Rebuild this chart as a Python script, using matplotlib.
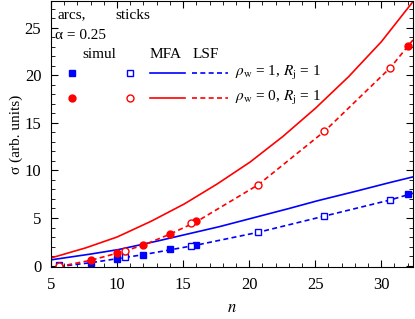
import numpy as np
import matplotlib
matplotlib.use('Agg')
import matplotlib.pyplot as plt
from matplotlib.ticker import MultipleLocator

plt.rcParams['font.family'] = ['Liberation Serif', 'DejaVu Serif']
plt.rcParams['mathtext.fontset'] = 'stix'
plt.rcParams['font.size'] = 10

# simulation points, arcs (filled) and sticks (open)
n_arcs = [8, 10, 12, 14, 16, 32]
n_sticks = [5.6, 10.6, 15.6, 20.7, 25.7, 30.7]
blue_arcs = [0.3, 0.7, 1.15, 1.7, 2.2, 7.5]
blue_sticks = [0.05, 0.85, 2.05, 3.5, 5.2, 6.9]
red_arcs = [0.6, 1.3, 2.2, 3.35, 4.7, 23.1]
red_sticks = [0.0, 1.5, 4.45, 8.5, 14.1, 20.8]

# MFA curves
n_mfa = [5, 7.5, 10, 12.5, 15, 17.5, 20, 22.5, 25, 27.5, 30, 32.5]
blue_mfa = [0.6, 1.1, 1.65, 2.4, 3.2, 4.0, 4.9, 5.8, 6.75, 7.6, 8.5, 9.35]
red_mfa = [0.8, 1.8, 3.0, 4.6, 6.4, 8.5, 10.8, 13.5, 16.5, 19.8, 23.5, 27.9]

# LSF curves
n_lsf = [5.6, 8, 10, 12, 14, 16, 20.7, 25.7, 30.7, 32.4]
blue_lsf = [-0.1, 0.3, 0.72, 1.15, 1.65, 2.15, 3.5, 5.2, 6.9, 7.6]
red_lsf = [-0.1, 0.55, 1.3, 2.15, 3.3, 4.6, 8.5, 14.1, 20.8, 23.7]

BLUE = '#0000ff'
RED = '#ff0000'
DASH = (0, (3, 2))

fig = plt.figure(figsize=(4.15, 3.19), dpi=100)
ax = fig.add_axes([0.123, 0.163, 0.872, 0.834])

# smooth the MFA curves a bit
xs = np.linspace(5, 32.5, 200)
ax.plot(xs, np.interp(xs, n_mfa, blue_mfa), color=BLUE, lw=1.2)
ax.plot(xs, np.interp(xs, n_mfa, red_mfa), color=RED, lw=1.2)
ax.plot(n_lsf, blue_lsf, color=BLUE, lw=1.2, ls=DASH)
ax.plot(n_lsf, red_lsf, color=RED, lw=1.2, ls=DASH)

ax.plot(n_arcs, blue_arcs, 's', color=BLUE, ms=4.5, ls='none')
ax.plot(n_sticks, blue_sticks, 's', mfc='white', mec=BLUE, mew=1, ms=4.5, ls='none')
ax.plot(n_arcs, red_arcs, 'o', color=RED, ms=5, ls='none')
ax.plot(n_sticks, red_sticks, 'o', mfc='white', mec=RED, mew=1, ms=5, ls='none')

ax.set_xlim(5, 32.4)
ax.set_ylim(-0.15, 27.8)
ax.xaxis.set_major_locator(MultipleLocator(5))
ax.xaxis.set_minor_locator(MultipleLocator(1))
ax.yaxis.set_major_locator(MultipleLocator(5))
ax.yaxis.set_minor_locator(MultipleLocator(1))
ax.tick_params(which='both', direction='in', top=True, right=True, labelsize=12)
ax.tick_params(which='major', length=5)
ax.tick_params(which='minor', length=3)
ax.tick_params(axis='x', pad=7)
ax.tick_params(axis='y', pad=7)
ax.set_xlabel('$n$', fontsize=12, labelpad=5)
ax.set_ylabel('σ (arb. units)', fontsize=11, labelpad=1)

# legend table
tr = ax.transAxes
ax.text(0.019, 0.947, 'arcs,', transform=tr, va='center', fontsize=11)
ax.text(0.177, 0.947, 'sticks', transform=tr, va='center', fontsize=11)
ax.text(0.011, 0.872, 'α = 0.25', transform=tr, va='center', fontsize=11)
ax.text(0.086, 0.797, 'simul', transform=tr, va='center', fontsize=11)
ax.text(0.273, 0.797, 'MFA', transform=tr, va='center', fontsize=11)
ax.text(0.390, 0.797, 'LSF', transform=tr, va='center', fontsize=11)
for yy, col, mk, lab in [(0.729, BLUE, 's', r'$\rho_\mathrm{w}$ = 1, $R_\mathrm{j}$ = 1'),
                         (0.635, RED, 'o', r'$\rho_\mathrm{w}$ = 0, $R_\mathrm{j}$ = 1')]:
    ms = 4.5 if mk == 's' else 5
    ax.plot([0.058], [yy], mk, color=col, ms=ms, transform=tr)
    ax.plot([0.218], [yy], mk, mfc='white', mec=col, mew=1, ms=ms, transform=tr)
    ax.plot([0.273, 0.370], [yy, yy], color=col, lw=1.2, transform=tr)
    ax.plot([0.390, 0.489], [yy, yy], color=col, lw=1.2, ls=DASH, transform=tr)
    ax.text(0.508, yy, lab, transform=tr, va='center', fontsize=11)

fig.savefig('out.png', dpi=100)
